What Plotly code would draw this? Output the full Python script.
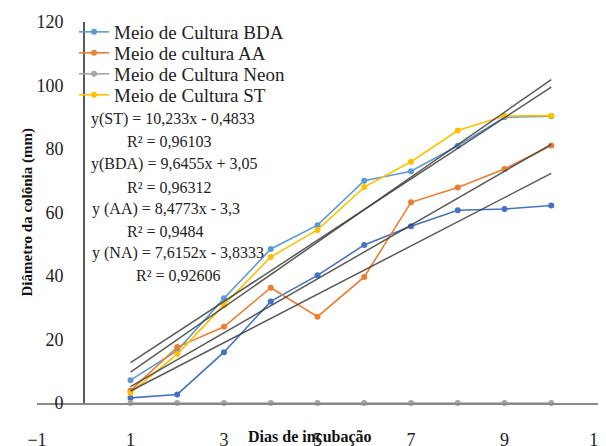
import plotly.graph_objects as go

# window size and page offset (browser body margin of 8px)
WIN_W, WIN_H, OFF = 606, 446, 8
# plot area in window pixels
PX0, PX1, PY0, PY1 = 37, 598, 22, 403

days = [1, 2, 3, 4, 5, 6, 7, 8, 9, 10]
bda = [7.2, 16.5, 33, 48.5, 56, 70, 73, 81, 90, 90.3]
aa = [3.9, 17.6, 24, 36.3, 27.2, 39.7, 63.2, 67.9, 73.7, 81.1]
neon = [0, 0, 0, 0, 0, 0, 0, 0, 0, 0]
st = [3.2, 15.4, 30.9, 46, 54.5, 68, 76, 85.8, 90.4, 90.5]
na = [1.6, 2.7, 16, 32, 40.2, 49.8, 55.7, 60.7, 61.1, 62.2]

# trendlines (coefficients printed on the chart)
trend_names = ["ST", "BDA", "AA", "NA"]
trend_slope = [10.233, 9.6455, 8.4773, 7.6152]
trend_icpt = [-0.4833, 3.05, -3.3, -3.8333]
trend_x = [1, 10]

eq_texts = ["y(ST) = 10,233x - 0,4833", "R² = 0,96103",
            "y(BDA) = 9,6455x + 3,05", "R² = 0,96312",
            "y (AA) = 8,4773x - 3,3", "R² = 0,9484",
            "y (NA) = 7,6152x - 3,8333", "R² = 0,92606"]
eq_px = [(89, 119), (125, 141), (89, 164), (125, 187),
         (90, 209), (125, 231), (90, 253), (134, 275)]

x_ticks = [-1, 1, 3, 5, 7, 9, 11]
y_ticks = [0, 20, 40, 60, 80, 100, 120]

FONT = "Liberation Serif"

FW, FH = WIN_W - OFF, WIN_H - OFF
L, T = PX0 - OFF, PY0 - OFF
R, B = FW - (PX1 - OFF), FH - (PY1 - OFF)

def px(xp, yp):
    return (xp - PX0) / (PX1 - PX0), (PY1 - yp) / (PY1 - PY0)

fig = go.Figure()

def series(y, name, color, legend=None):
    fig.add_trace(go.Scatter(
        x=days, y=y, name=name, mode="lines+markers",
        line=dict(color=color, width=1.6),
        marker=dict(color=color, size=6),
        showlegend=legend is not None, legend=legend or "legend",
        cliponaxis=False))

series(na, "NA", "#4472C4")
series(bda, "Meio de Cultura BDA", "#5B9BD5", "legend")
series(aa, "Meio de cultura AA", "#ED7D31", "legend2")
series(neon, "Meio de Cultura Neon", "#A5A5A5", "legend3")
series(st, "Meio de Cultura ST", "#FFC000", "legend4")

for n, a, b in zip(trend_names, trend_slope, trend_icpt):
    fig.add_trace(go.Scatter(
        x=trend_x, y=[a * xx + b for xx in trend_x], mode="lines",
        line=dict(color="rgba(60,60,60,0.85)", width=1.5),
        showlegend=False, hoverinfo="skip"))

anns = []
for t, (xp, yp) in zip(eq_texts, eq_px):
    ax, ay = px(xp, yp)
    anns.append(dict(text=t, x=ax, y=ay, xref="paper", yref="paper",
                     xanchor="left", yanchor="middle", showarrow=False,
                     font=dict(family=FONT, size=16, color="#222")))
ax, ay = px(17, 213)
anns.append(dict(text="<b>Diâmetro da colônia (mm)</b>", x=ax, y=ay,
                 xref="paper", yref="paper", textangle=-90, showarrow=False,
                 font=dict(family=FONT, size=15, color="#111")))
ax, ay = px(310, 437)
anns.append(dict(text="<b>Dias de incubação</b>", x=ax, y=ay,
                 xref="paper", yref="paper", showarrow=False,
                 xanchor="center", yanchor="middle",
                 font=dict(family=FONT, size=16, color="#111")))

leg_rows = [32, 53, 74, 95]
legs = {}
for i, yp in enumerate(leg_rows):
    lx, ly = px(74, yp)
    key = "legend" if i == 0 else f"legend{i + 1}"
    legs[key] = dict(x=lx, y=ly, xanchor="left", yanchor="middle",
                     font=dict(family=FONT, size=19, color="#222"),
                     bgcolor="rgba(0,0,0,0)", itemwidth=30)

fig.update_layout(
    width=FW, height=FH,
    margin=dict(l=L, r=R, t=T, b=B, autoexpand=False),
    paper_bgcolor="white", plot_bgcolor="white",
    showlegend=True,
    xaxis=dict(range=[-1, 11], tickvals=x_ticks, showgrid=False,
               zeroline=False, showline=True, linecolor="#8a8a8a",
               linewidth=1.5, ticks="", ticklabelstandoff=20,
               automargin=False, ticklabeloverflow="allow",
               tickfont=dict(family=FONT, size=18, color="#222")),
    yaxis=dict(range=[0, 120], tickvals=y_ticks, showgrid=False,
               zeroline=False, showline=True, linecolor="#595959",
               linewidth=1.5, ticks="", anchor="free", position=1 / 12,
               ticklabelstandoff=16, automargin=False,
               tickfont=dict(family=FONT, size=18, color="#222")),
    annotations=anns,
    **legs,
)

fig.write_html("out.html")
